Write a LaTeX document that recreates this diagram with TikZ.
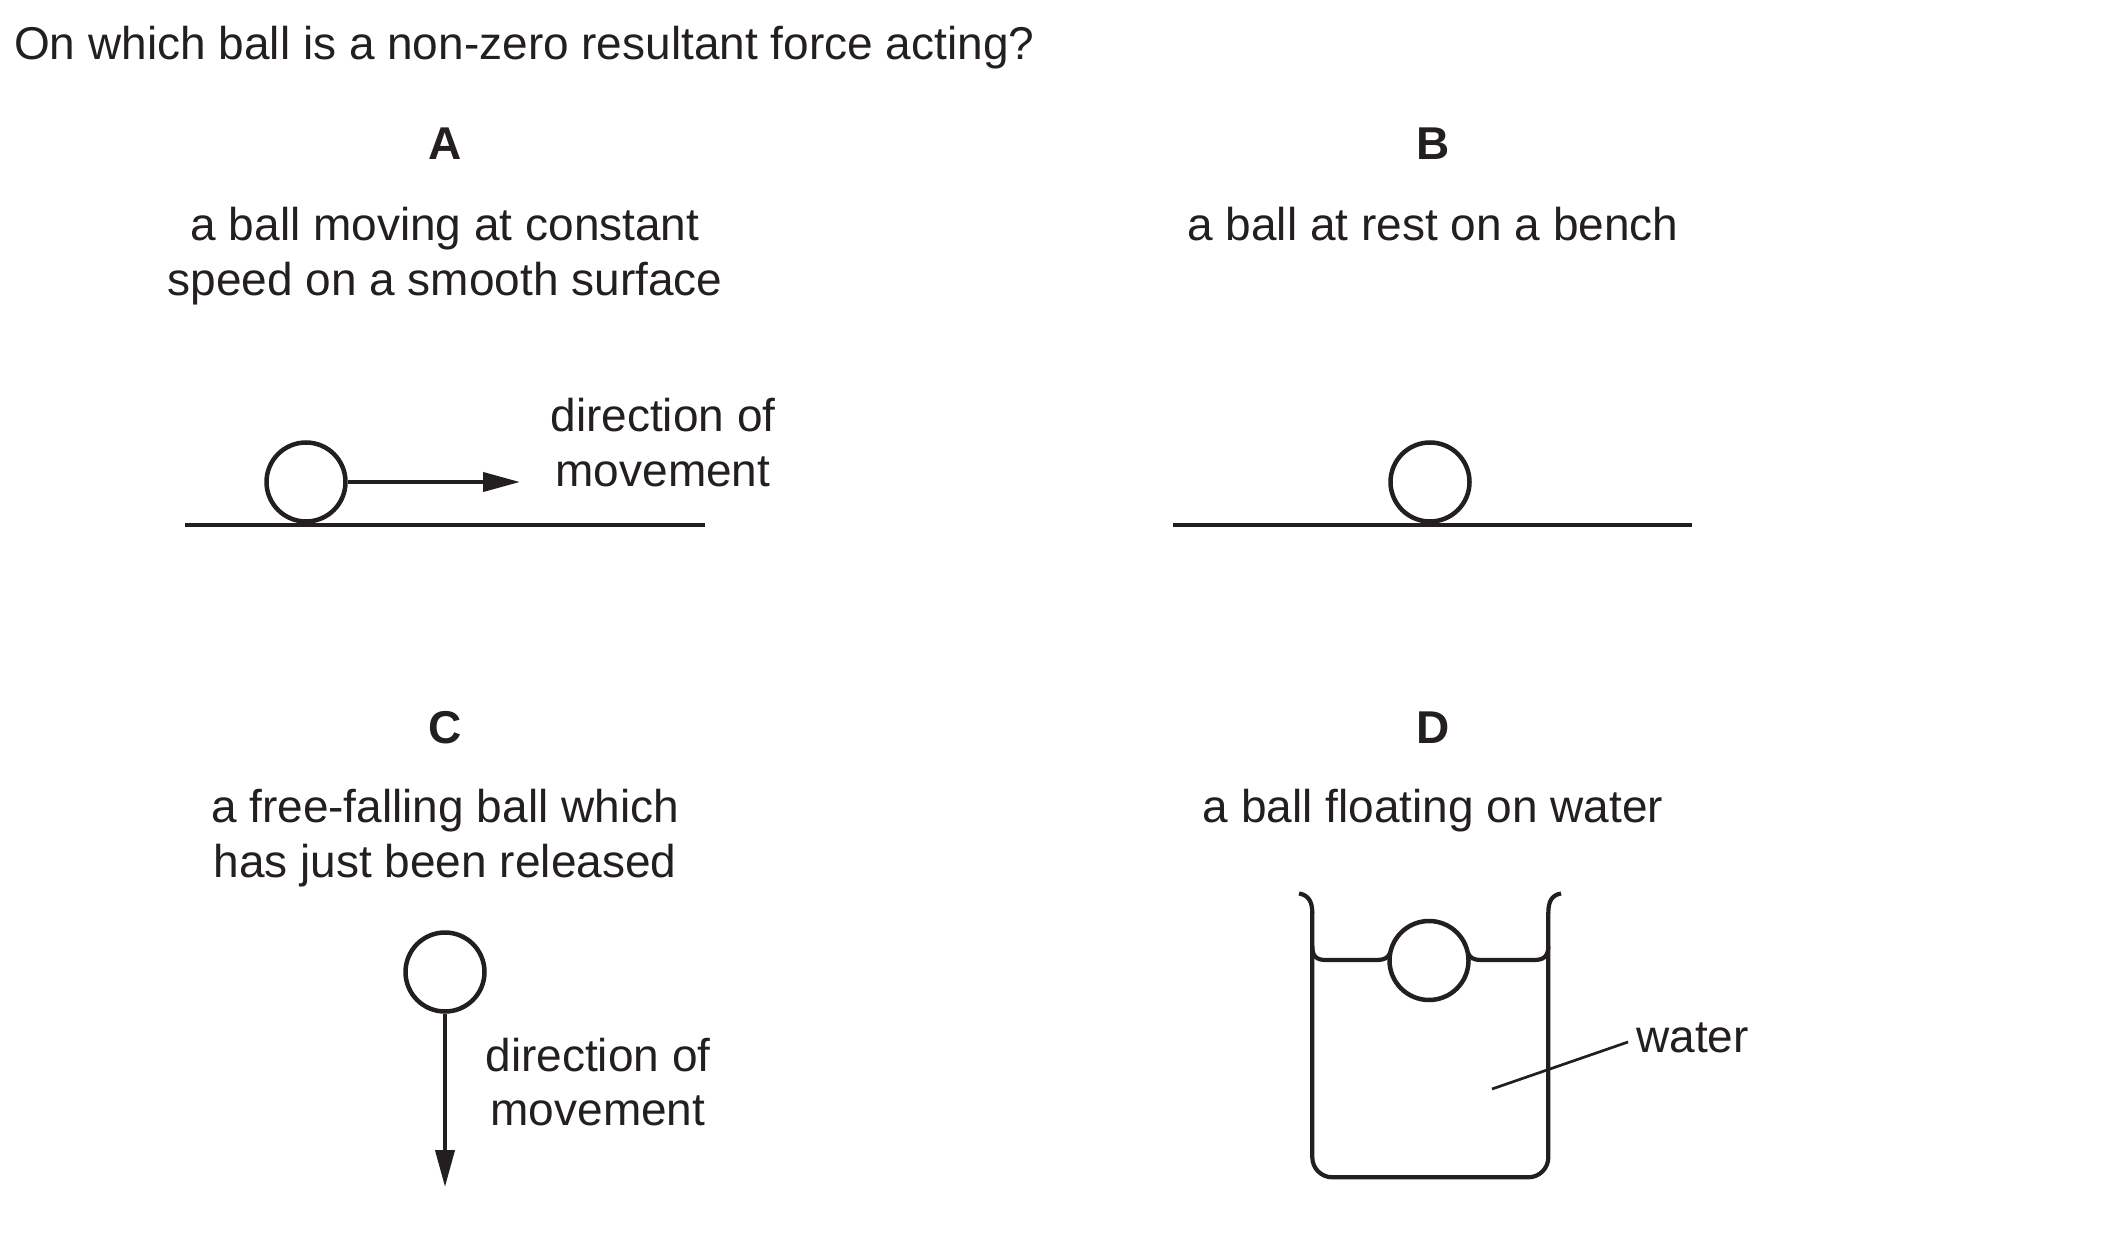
\documentclass[tikz,border=0pt]{standalone}
\usepackage{fontspec}
\setmainfont{Liberation Sans}
\usetikzlibrary{arrows.meta}
\definecolor{ink}{RGB}{35,31,32}
\begin{document}
\begin{tikzpicture}[x=1pt,y=-1pt,
  txt/.style={font=\fontsize{46}{55}\selectfont, text=ink, inner sep=0pt, anchor=base},
  lbl/.style={font=\fontsize{46}{55}\selectfont\bfseries, text=ink, inner sep=0pt, anchor=base},
  ball/.style={circle, draw=ink, line width=4.5pt, minimum size=79pt, inner sep=0pt},
  ground/.style={draw=ink, line width=4.6pt},
  arr/.style={draw=ink, line width=4pt, -{Triangle[length=37pt,width=19pt]}},
  beaker/.style={draw=ink, line width=4.2pt, line join=round},
  lead/.style={draw=ink, line width=2.7pt}]
\useasboundingbox (0,0) rectangle (2101,1241);

% title
\node[txt, anchor=base west] (title) at (14,60) {On which ball is a non-zero resultant force acting?};

% ---------- A ----------
\node[lbl] (labA) at (445,160) {A};
\node[txt] (descA1) at (445,241) {a ball moving at constant};
\node[txt] (descA2) at (445,296) {speed on a smooth surface};
\coordinate (gA1) at (185,525);
\coordinate (gA2) at (705,525);
\draw[ground] (gA1) -- (gA2);
\node[ball] (ballA) at (306,482) {};
\coordinate (tipA) at (520,482);
\draw[arr] (ballA) -- (tipA);
\node[txt] (dirA1) at (663,431) {direction of};
\node[txt] (dirA2) at (663,486) {movement};

% ---------- B ----------
\node[lbl] (labB) at (1433,160) {B};
\node[txt] (descB) at (1433,241) {a ball at rest on a bench};
\coordinate (gB1) at (1173,525);
\coordinate (gB2) at (1692,525);
\draw[ground] (gB1) -- (gB2);
\node[ball] (ballB) at (1430,482) {};

% ---------- C ----------
\node[lbl] (labC) at (445,743) {C};
\node[txt] (descC1) at (445,822) {a free-falling ball which};
\node[txt] (descC2) at (445,877) {has just been released};
\node[ball] (ballC) at (445,972) {};
\coordinate (tipC) at (445,1187);
\draw[arr] (ballC) -- (tipC);
\node[txt] (dirC1) at (598,1071) {direction of};
\node[txt] (dirC2) at (598,1125) {movement};

% ---------- D ----------
\node[lbl] (labD) at (1433,743) {D};
\node[txt] (descD) at (1433,822) {a ball floating on water};
% rims
\draw[beaker] (1299,893.5) .. controls (1308,895) and (1312.3,901) .. (1312.3,913);
\draw[beaker] (1561,893.5) .. controls (1552,895) and (1548.3,901) .. (1548.3,913);
% body
\draw[beaker, rounded corners=20pt] (1312.3,912) -- (1312.3,1177.3) -- (1548.3,1177.3) -- (1548.3,912);
\node[ball] (ballD) at (1429,960.5) {};
% water surface
\draw[beaker] (1312.3,946) .. controls (1312.3,956) and (1316,960) .. (1326,960)
  -- (1377,960) .. controls (1384,960) and (1388,958) .. (1390,953);
\draw[beaker] (1468,953) .. controls (1470,958) and (1474,960) .. (1481,960)
  -- (1534,960) .. controls (1544,960) and (1548.3,956) .. (1548.3,946);
\node[txt, anchor=base west] (water) at (1636,1052) {water};
\coordinate (wpt) at (1492,1089);
\coordinate (wend) at (1628,1042);
\draw[lead] (wpt) -- (wend);
\end{tikzpicture}
\end{document}
